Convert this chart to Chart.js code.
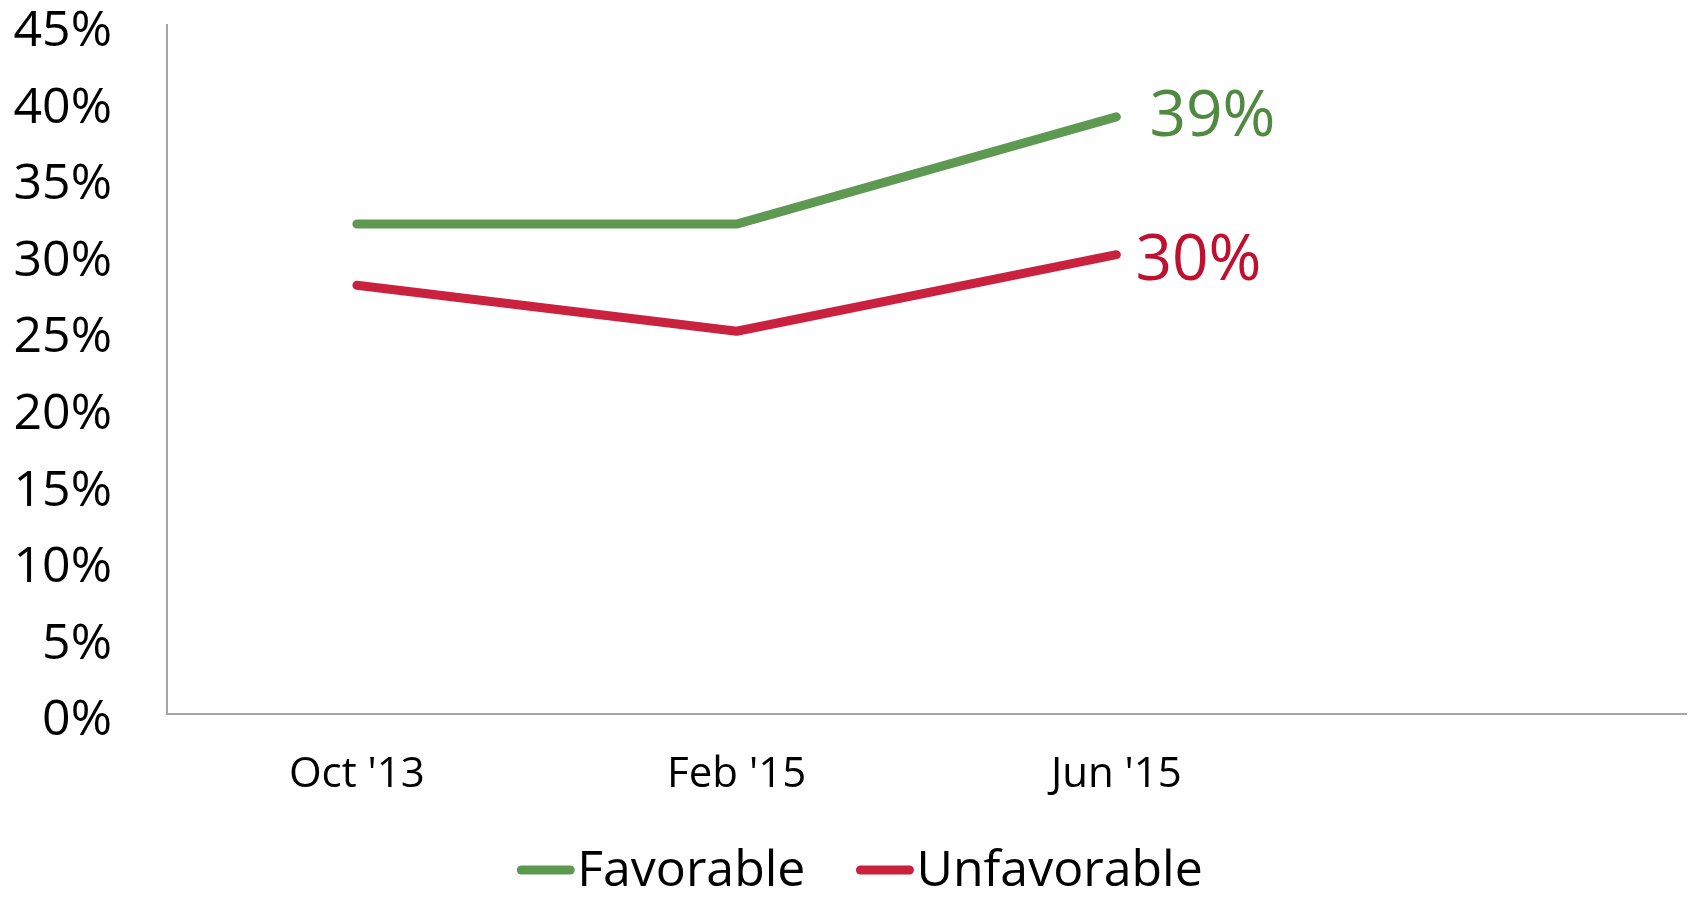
<!DOCTYPE html>
<html>
<head>
<meta charset="utf-8">
<script src="https://cdn.jsdelivr.net/npm/chart.js@4.4.1/dist/chart.umd.min.js"></script>
<style>
  html, body { margin: 0; padding: 0; background: #fff; }
  #wrap { width: 1694px; height: 899px; position: relative; }
</style>
</head>
<body>
<div id="wrap"><canvas id="lineChart"></canvas></div>
<script>
// data
const periods = ["Oct '13", "Feb '15", "Jun '15", ""];
const favorable = [32, 32, 39, null];
const unfavorable = [28, 25, 30, null];
const seriesNames = ['Favorable', 'Unfavorable'];

const FONT = "'Open Sans', 'Noto Sans', sans-serif";
const lineColors = ['#5e9952', '#c9213e'];
const labelColors = ['#4f8a40', '#bf1030'];
// where the end label sits relative to its last point
const endLabelDx = [33, 19];
const endLabelDy = [1, 7];

// draws "39%" / "30%" next to the last point of each line
const endLabels = {
    id: 'endLabels',
    afterDatasetsDraw(chart) {
        const ctx = chart.ctx;
        ctx.save();
        ctx.font = '64px ' + FONT;
        ctx.textAlign = 'left';
        ctx.textBaseline = 'middle';
        chart.data.datasets.forEach((ds, i) => {
            const meta = chart.getDatasetMeta(i);
            let last = -1;
            ds.data.forEach((v, j) => { if (v !== null) last = j; });
            if (last < 0) return;
            const pt = meta.data[last];
            ctx.fillStyle = labelColors[i];
            ctx.fillText(ds.data[last] + '%', pt.x + endLabelDx[i], pt.y + endLabelDy[i]);
        });
        ctx.restore();
    }
};

// legend with short thick line markers close to the text
const lineLegend = {
    id: 'lineLegend',
    afterDraw(chart) {
        const ctx = chart.ctx;
        const y = 870;
        const markW = 57, gap = 3, itemGap = 51;
        ctx.save();
        ctx.font = '50px ' + FONT;
        ctx.textBaseline = 'middle';
        const widths = chart.data.datasets.map(ds => markW + gap + ctx.measureText(ds.label).width);
        const total = widths.reduce((a, b) => a + b, 0) + itemGap * (widths.length - 1);
        let x = chart.width / 2 - total / 2 + 13;
        chart.data.datasets.forEach((ds, i) => {
            ctx.strokeStyle = ds.borderColor;
            ctx.lineWidth = 9;
            ctx.lineCap = 'round';
            ctx.beginPath();
            ctx.moveTo(x + 4, y);
            ctx.lineTo(x + markW - 4, y);
            ctx.stroke();
            ctx.fillStyle = '#000';
            ctx.fillText(ds.label, x + markW + gap, y + 2);
            x += widths[i] + itemGap;
        });
        ctx.restore();
    }
};

const ctx = document.getElementById('lineChart').getContext('2d');
new Chart(ctx, {
    type: 'line',
    data: {
        labels: periods,
        datasets: [
            { label: seriesNames[0], data: favorable, borderColor: lineColors[0], backgroundColor: lineColors[0] },
            { label: seriesNames[1], data: unfavorable, borderColor: lineColors[1], backgroundColor: lineColors[1] }
        ]
    },
    options: {
        responsive: true,
        maintainAspectRatio: false,
        animation: false,
        devicePixelRatio: 1,
        layout: { padding: { top: 25, right: 8, left: 0, bottom: 0 } },
        elements: {
            line: { borderWidth: 9, tension: 0, borderCapStyle: 'round', borderJoinStyle: 'round' },
            point: { radius: 0, hoverRadius: 0 }
        },
        plugins: {
            legend: { display: false },
            tooltip: { enabled: false }
        },
        scales: {
            x: {
                offset: true,
                grid: { display: false, drawTicks: false },
                border: { display: true, color: '#a6a6a6', width: 2 },
                ticks: { color: '#000', font: { family: FONT, size: 42 }, padding: 36, maxRotation: 0 },
                afterFit(scale) { scale.height = 185; }
            },
            y: {
                min: 0,
                max: 45,
                grid: { display: false, drawTicks: false },
                border: { display: true, color: '#a6a6a6', width: 2 },
                ticks: {
                    stepSize: 5,
                    color: '#000',
                    padding: 55,
                    labelOffset: 7,
                    font: { family: FONT, size: 50, lineHeight: 1 },
                    callback: v => v + '%'
                },
                afterFit(scale) {
                    scale.width = 167;
                    scale.paddingTop = 0;
                    scale.paddingBottom = 0;
                }
            }
        }
    },
    plugins: [endLabels, lineLegend]
});
</script>
</body>
</html>
